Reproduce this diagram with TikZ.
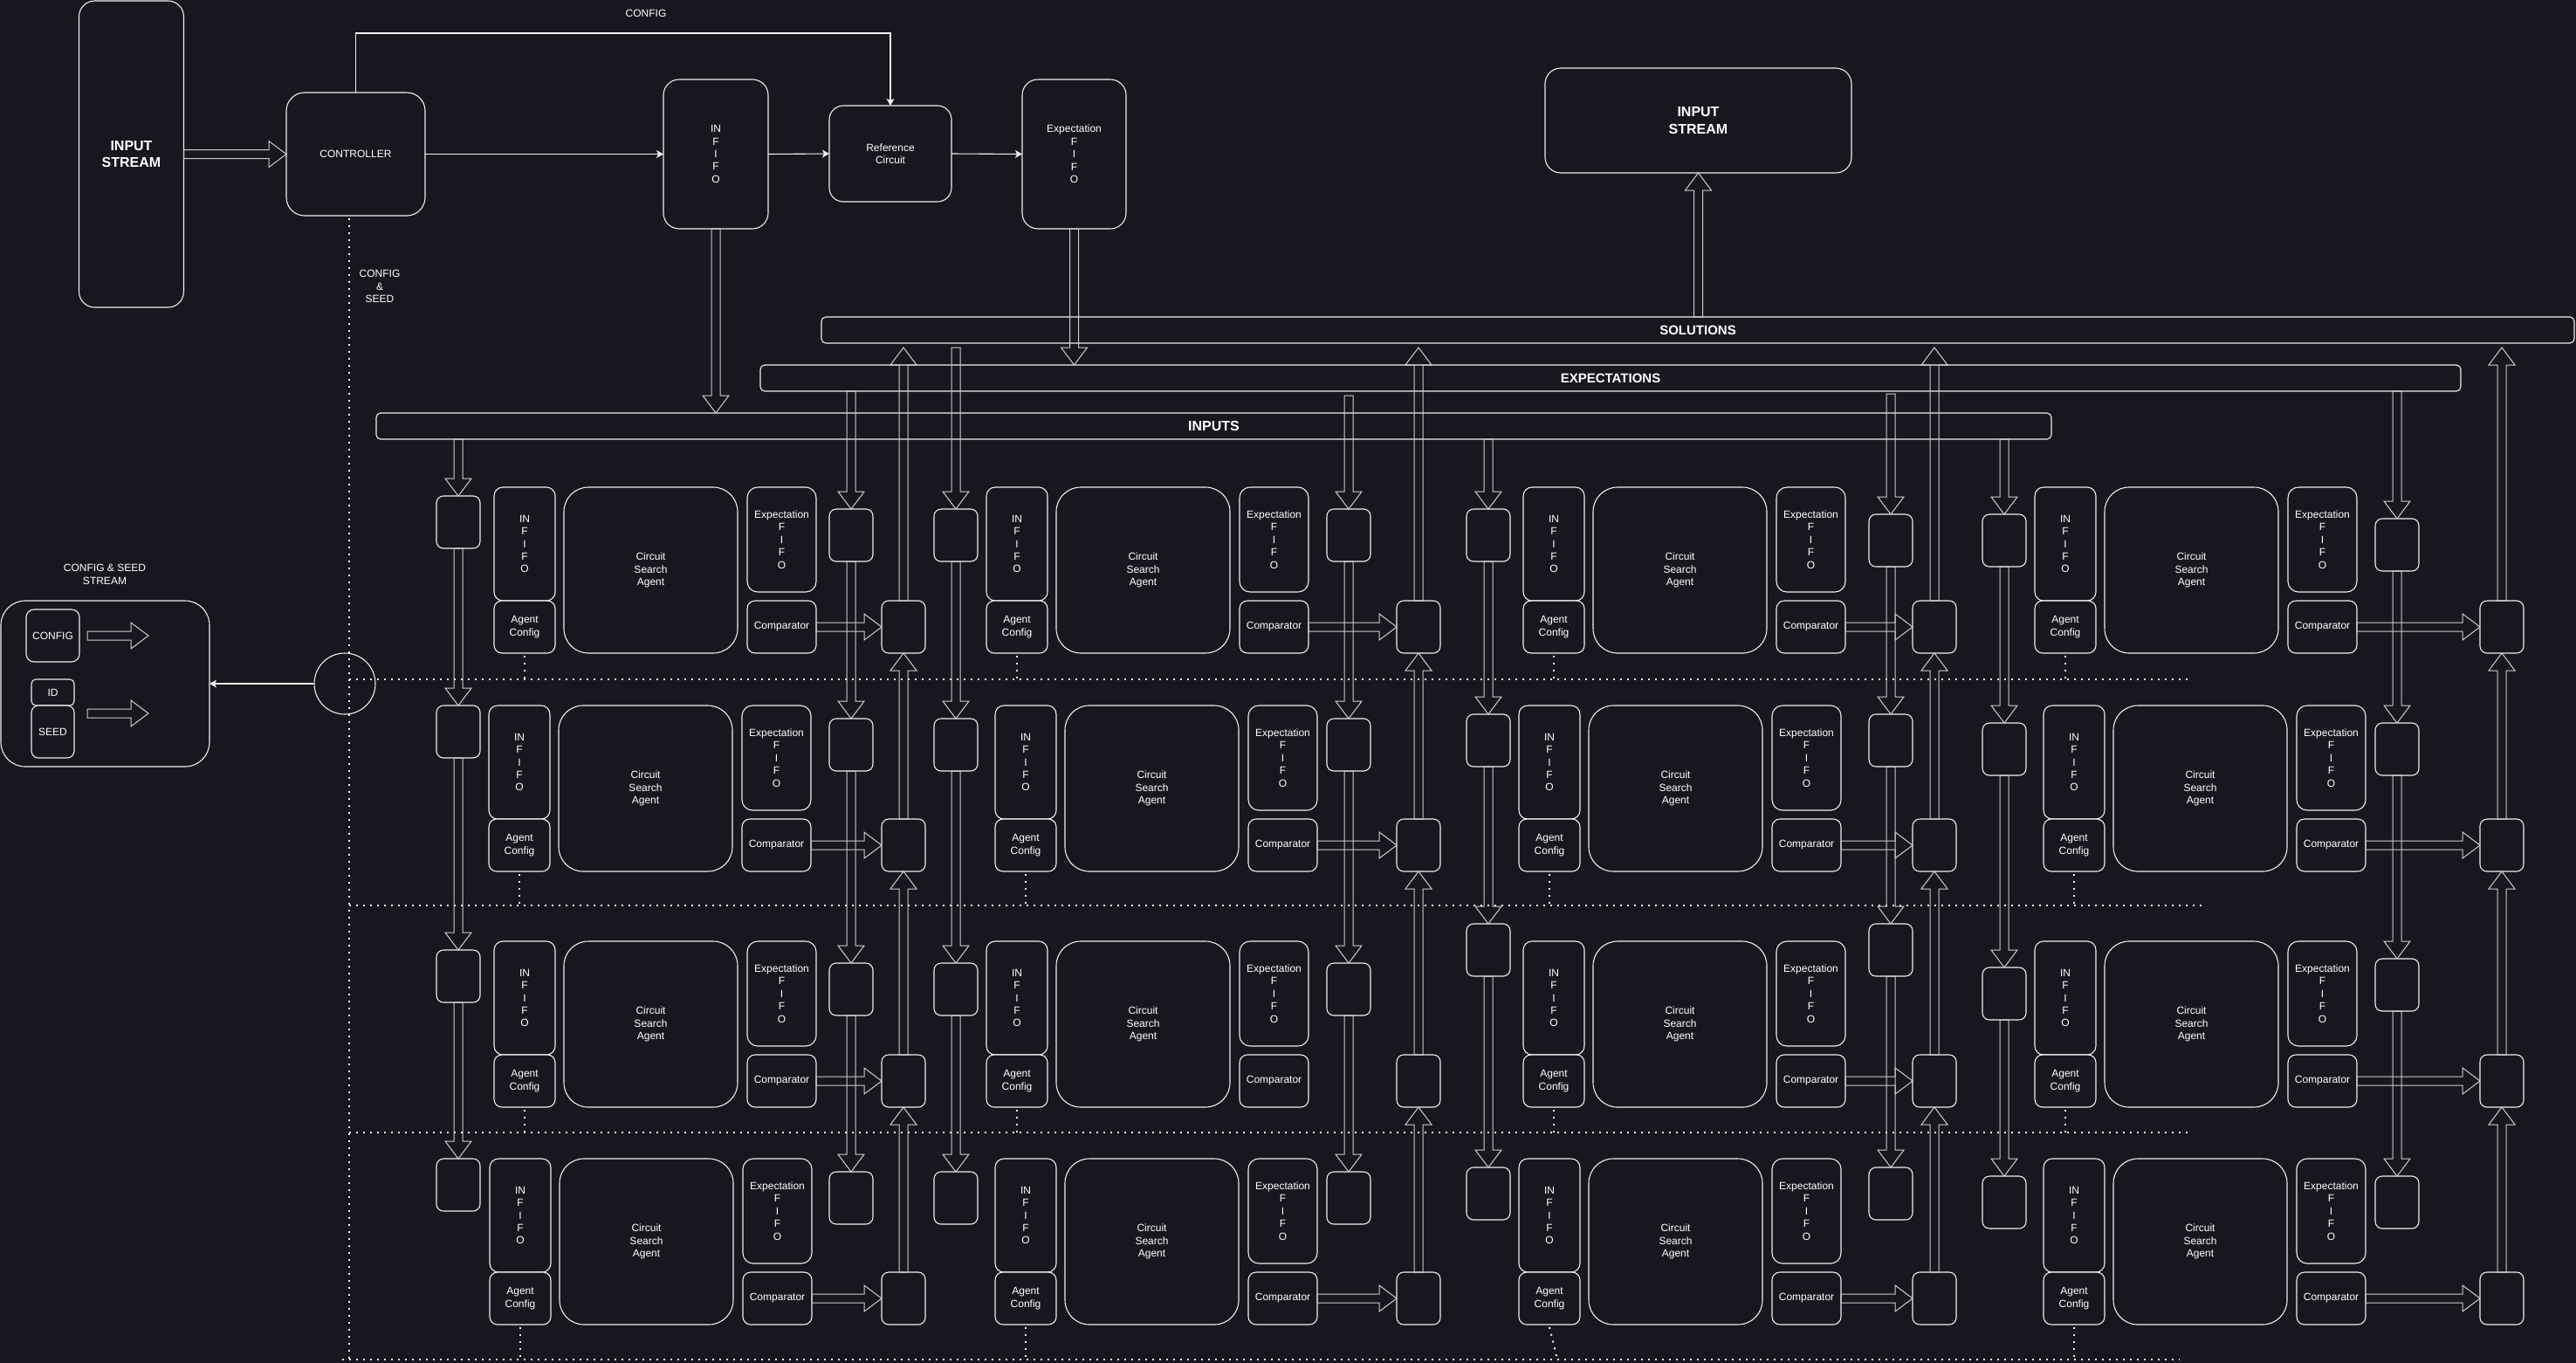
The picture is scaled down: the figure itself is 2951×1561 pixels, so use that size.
\documentclass[tikz,border=0pt]{standalone}
\usepackage{fontspec}
\setmainfont{Liberation Sans}
\usetikzlibrary{arrows.meta,calc}
\definecolor{bg}{RGB}{24,23,31}
\definecolor{fg}{RGB}{238,238,238}
\definecolor{ag}{RGB}{205,205,205}
\tikzset{
  base/.style={draw=fg, line width=1.1pt, fill=bg, text=white, align=center, inner sep=0pt, outer sep=0pt, font=\fontsize{12pt}{14.4pt}\selectfont},
  bx/.style n args={3}{base, minimum width=#1pt, minimum height=#2pt, rounded corners=#3pt},
  bsixteen/.style={font=\bfseries\fontsize{16pt}{19.2pt}\selectfont},
  bfifteen/.style={font=\bfseries\fontsize{15pt}{18pt}\selectfont},
  lbl/.style={text=white, align=center, inner sep=0pt, font=\fontsize{12pt}{14.4pt}\selectfont},
  harr/.style={draw=ag, line width=1pt, line join=miter},
  dotl/.style={draw=fg, line width=2pt, dash pattern=on 2pt off 6pt},
  conn/.style={draw=fg, line width=1.1pt, -{Stealth[length=8pt,width=9pt,inset=2pt]}}
}
% hollow (flex) arrows
\newcommand\hdn[2]{\draw[harr] let \p1=#1, \p2=#2 in (\x2-5pt,\y1) -- (\x2-5pt,\y2+20pt) -- (\x2-15pt,\y2+20pt) -- (\x2,\y2) -- (\x2+15pt,\y2+20pt) -- (\x2+5pt,\y2+20pt) -- (\x2+5pt,\y1) -- cycle;}
\newcommand\hup[2]{\draw[harr] let \p1=#1, \p2=#2 in (\x1-5pt,\y1) -- (\x1-5pt,\y2-20pt) -- (\x1-15pt,\y2-20pt) -- (\x1,\y2) -- (\x1+15pt,\y2-20pt) -- (\x1+5pt,\y2-20pt) -- (\x1+5pt,\y1) -- cycle;}
\newcommand\hrt[2]{\draw[harr] let \p1=#1, \p2=#2 in (\x1,\y1-5pt) -- (\x2-20pt,\y1-5pt) -- (\x2-20pt,\y1-15pt) -- (\x2,\y1) -- (\x2-20pt,\y1+15pt) -- (\x2-20pt,\y1+5pt) -- (\x1,\y1+5pt) -- cycle;}
% one agent cell: #1 id, #2 left x, #3 top y, #4 separator y, #5 dx of dotted end
\newcommand\agentcell[5]{%
  \node[bx={70}{130}{10}] (inf#1) at ({#2+35},{#3+65}) {IN\\F\\I\\F\\O};
  \node[bx={70}{60}{9}] (acf#1) at ({#2+35},{#3+160}) {Agent\\Config};
  \node[bx={199}{190}{28}] (csa#1) at ({#2+179.5},{#3+95}) {Circuit\\Search\\Agent};
  \node[bx={79}{120}{12}] (exf#1) at ({#2+329.5},{#3+60}) {Expectation\\F\\I\\F\\O};
  \node[bx={79}{60}{9}] (cmp#1) at ({#2+329.5},{#3+160}) {Comparator};
  \coordinate (sep#1) at ({#2+35+#5},#4);
  \draw[dotl] ([yshift=-3pt]acf#1.south) -- (sep#1);
}
\newcommand\bufnode[3]{\node[bx={50}{60}{8}] (#1) at (#2,{#3+30}) {};}
\begin{document}
\begin{tikzpicture}[x=1pt,y=-1pt]
\fill[bg] (0,0) rectangle (2951,1561);
\useasboundingbox (0,0) rectangle (2951,1561);

% ---------- dotted grid ----------
\coordinate (cd) at (400,250);
\coordinate (cdend) at (400,1558);
\draw[dotl] (cd) -- (cdend);
\coordinate (s1a) at (400,778);  \coordinate (s1b) at (2511,778);
\coordinate (s2a) at (400,1037); \coordinate (s2b) at (2522,1037);
\coordinate (s3a) at (400,1297); \coordinate (s3b) at (2511,1297);
\coordinate (s4a) at (392,1557); \coordinate (s4b) at (2497,1557);
\draw[dotl] (s1a) -- (s1b);
\draw[dotl] (s2a) -- (s2b);
\draw[dotl] (s3a) -- (s3b);
\draw[dotl] (s4a) -- (s4b);

% ---------- top section ----------
\node[bx={120}{351}{18}, bsixteen] (ins) at (150.5,176.5) {INPUT\\STREAM};
\node[bx={159}{141}{21}] (ctl) at (407.5,176.5) {CONTROLLER};
\node[bx={120}{171}{18}] (tinf) at (820,176.5) {IN\\F\\I\\F\\O};
\node[bx={140}{110}{16}] (ref) at (1020,176) {Reference\\Circuit};
\node[bx={119}{171}{18}] (texf) at (1230.5,176.5) {Expectation\\F\\I\\F\\O};
\node[bx={351}{120}{18}, bsixteen] (outs) at (1945.5,138) {INPUT\\STREAM};
\node[lbl] (cfglab) at (740,15) {CONFIG};
\node[lbl] (cslab2) at (435,328) {CONFIG\\\&\\SEED};

\draw[conn] (ctl.east) -- (tinf.west);
\draw[conn] (tinf.east) -- (ref.west);
\draw[conn] (ref.east) -- (texf.west);
\draw[conn] (ctl.north) -- ++(0,-68) -| (ref.north);
\hrt{(ins.east)}{(ctl.west)}

% ---------- bars ----------
\node[bx={2008}{30}{5}, bfifteen] (sol) at (1945,378) {SOLUTIONS};
\node[bx={1948}{30}{5}, bfifteen] (exps) at (1845,433) {EXPECTATIONS};
\node[bx={1919}{30}{5}, bsixteen] (inps) at (1390.5,488) {INPUTS};

\hdn{(tinf.south)}{(inps.north -| tinf.south)}
\hdn{(texf.south)}{(exps.north -| texf.south)}
\hup{(sol.north -| outs.south)}{(outs.south)}

% ---------- config & seed panel ----------
\node[lbl] (cslab) at (120,658) {CONFIG \& SEED\\STREAM};
\node[bx={239}{190}{28}] (panel) at (120.5,783) {};
\node[bx={61}{60}{9}] (cfg) at (60.5,728) {CONFIG};
\node[bx={49}{30}{5}] (idb) at (60.5,793) {ID};
\node[bx={49}{60}{8}] (seed) at (60.5,838) {SEED};
\coordinate (pa1) at (100,728); \coordinate (pa1e) at (170,728);
\coordinate (pa2) at (100,817); \coordinate (pa2e) at (170,817);
\hrt{(pa1)}{(pa1e)}
\hrt{(pa2)}{(pa2e)}
\node[draw=fg, line width=1.1pt, circle, minimum size=70pt, inner sep=0pt] (circ) at (395,783) {};
\draw[conn] (circ.west) -- (panel.east);

% ---------- agent cells ----------
\agentcell{11}{566}{558}{778}{0}
\agentcell{12}{1130}{558}{778}{0}
\agentcell{13}{1745}{558}{778}{0}
\agentcell{14}{2331}{558}{778}{0}
\agentcell{21}{560}{808}{1037}{0}
\agentcell{22}{1140}{808}{1037}{0}
\agentcell{23}{1740}{808}{1037}{0}
\agentcell{24}{2341}{808}{1037}{0}
\agentcell{31}{566}{1078}{1297}{0}
\agentcell{32}{1130}{1078}{1297}{0}
\agentcell{33}{1745}{1078}{1297}{0}
\agentcell{34}{2331}{1078}{1297}{0}
\agentcell{41}{561}{1327}{1557}{0}
\agentcell{42}{1140}{1327}{1557}{0}
\agentcell{43}{1740}{1327}{1557}{9}
\agentcell{44}{2341}{1327}{1557}{0}

% input buffers
\bufnode{ib11}{525}{568}  \bufnode{ib21}{525}{808}  \bufnode{ib31}{525}{1088} \bufnode{ib41}{525}{1327}
\bufnode{ib12}{1095}{583} \bufnode{ib22}{1095}{823} \bufnode{ib32}{1095}{1103} \bufnode{ib42}{1095}{1342}
\bufnode{ib13}{1705}{583} \bufnode{ib23}{1705}{818} \bufnode{ib33}{1705}{1058} \bufnode{ib43}{1705}{1337}
\bufnode{ib14}{2296}{589} \bufnode{ib24}{2296}{828} \bufnode{ib34}{2296}{1108} \bufnode{ib44}{2296}{1347}
% expectation buffers
\bufnode{eb11}{975}{583}  \bufnode{eb21}{975}{823}  \bufnode{eb31}{975}{1103}  \bufnode{eb41}{975}{1342}
\bufnode{eb12}{1545}{583} \bufnode{eb22}{1545}{823} \bufnode{eb32}{1545}{1103} \bufnode{eb42}{1545}{1342}
\bufnode{eb13}{2166}{589} \bufnode{eb23}{2166}{818} \bufnode{eb33}{2166}{1058} \bufnode{eb43}{2166}{1337}
\bufnode{eb14}{2746}{594} \bufnode{eb24}{2746}{828} \bufnode{eb34}{2746}{1098} \bufnode{eb44}{2746}{1347}
% solution boxes
\foreach \c/\x in {1/1035,2/1625,3/2216,4/2866}{
  \bufnode{sb1\c}{\x}{688} \bufnode{sb2\c}{\x}{938} \bufnode{sb3\c}{\x}{1208} \bufnode{sb4\c}{\x}{1457}
}

% comparator -> solution
\foreach \r/\c in {1/1,1/2,1/3,1/4,2/1,2/2,2/3,2/4,3/1,3/3,3/4,4/1,4/2,4/3,4/4}{
  \hrt{(cmp\r\c.east)}{(sb\r\c.west)}
}

% chains between rows
\foreach \c in {1,2,3,4}{
  \foreach \r/\s in {1/2,2/3,3/4}{
    \hdn{(ib\r\c.south)}{(ib\s\c.north)}
    \hdn{(eb\r\c.south)}{(eb\s\c.north)}
    \hup{(sb\s\c.north)}{(sb\r\c.south)}
  }
}

% links to the bars
\coordinate (st1) at (1035,398);
\coordinate (st2) at (1625,398);
\coordinate (st3) at (2216,398);
\coordinate (st4) at (2866,398);
\coordinate (ib2s) at (1095,398);
\coordinate (eb2s) at (1545,453);
\coordinate (eb3s) at (2166,451);
\hdn{(inps.south -| ib11.north)}{(ib11.north)}
\hdn{(exps.south -| eb11.north)}{(eb11.north)}
\hdn{(ib2s)}{(ib12.north)}
\hdn{(eb2s)}{(eb12.north)}
\hdn{(inps.south -| ib13.north)}{(ib13.north)}
\hdn{(eb3s)}{(eb13.north)}
\hdn{(inps.south -| ib14.north)}{(ib14.north)}
\hdn{(exps.south -| eb14.north)}{(eb14.north)}
\hup{(sb11.north)}{(st1)}
\hup{(sb12.north)}{(st2)}
\hup{(sb13.north)}{(st3)}
\hup{(sb14.north)}{(st4)}
\end{tikzpicture}
\end{document}
